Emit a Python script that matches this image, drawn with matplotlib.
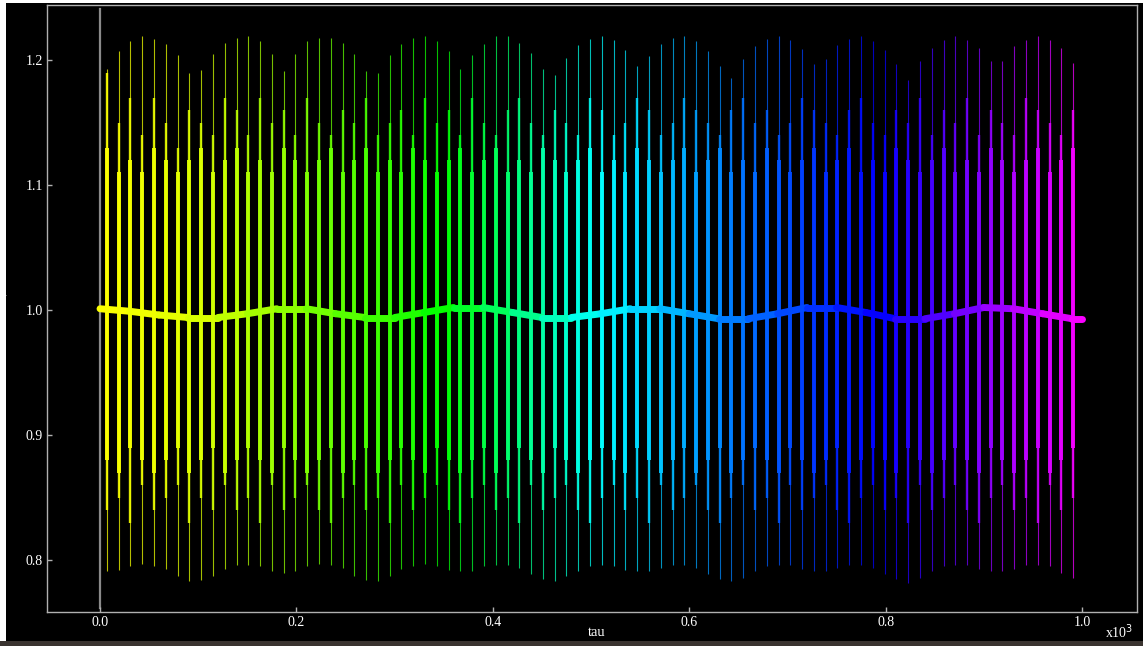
import numpy as np
import matplotlib
matplotlib.use("Agg")
import matplotlib.pyplot as plt
from matplotlib.collections import LineCollection
from matplotlib.colors import hsv_to_rgb
from matplotlib.patches import Rectangle

# ---- data (tau in units of 10^3) ----
spike_tau = [
    0.007, 0.019, 0.031, 0.043, 0.055, 0.067, 0.079, 0.091, 0.103, 0.115,
    0.127, 0.139, 0.151, 0.163, 0.175, 0.187, 0.199, 0.211, 0.223, 0.235,
    0.247, 0.259, 0.271, 0.283, 0.295, 0.307, 0.319, 0.331, 0.343, 0.355,
    0.367, 0.379, 0.391, 0.403, 0.415, 0.427, 0.439, 0.451, 0.463, 0.475,
    0.487, 0.499, 0.511, 0.523, 0.535, 0.547, 0.559, 0.571, 0.583, 0.595,
    0.607, 0.619, 0.631, 0.643, 0.655, 0.667, 0.679, 0.691, 0.703, 0.715,
    0.727, 0.739, 0.751, 0.763, 0.775, 0.787, 0.799, 0.811, 0.823, 0.835,
    0.847, 0.859, 0.871, 0.883, 0.895, 0.907, 0.919, 0.931, 0.943, 0.955,
    0.967, 0.979, 0.991]

spike_max = [
    1.193, 1.207, 1.215, 1.219, 1.217, 1.213, 1.204, 1.190, 1.192, 1.205,
    1.214, 1.218, 1.219, 1.215, 1.205, 1.191, 1.205, 1.215, 1.218, 1.218,
    1.214, 1.205, 1.191, 1.190, 1.204, 1.213, 1.218, 1.219, 1.215, 1.207,
    1.193, 1.204, 1.213, 1.219, 1.219, 1.214, 1.206, 1.193, 1.188, 1.202,
    1.212, 1.217, 1.219, 1.216, 1.208, 1.195, 1.203, 1.213, 1.218, 1.219,
    1.215, 1.207, 1.195, 1.186, 1.201, 1.211, 1.217, 1.219, 1.216, 1.209,
    1.197, 1.201, 1.212, 1.217, 1.219, 1.215, 1.208, 1.197, 1.184, 1.199,
    1.210, 1.216, 1.219, 1.216, 1.210, 1.199, 1.199, 1.211, 1.216, 1.219,
    1.216, 1.210, 1.198]

spike_min = [
    0.791, 0.792, 0.795, 0.797, 0.795, 0.793, 0.787, 0.783, 0.784, 0.787,
    0.793, 0.796, 0.796, 0.795, 0.791, 0.790, 0.791, 0.795, 0.797, 0.796,
    0.794, 0.787, 0.784, 0.783, 0.787, 0.793, 0.795, 0.797, 0.795, 0.792,
    0.791, 0.791, 0.795, 0.796, 0.796, 0.794, 0.789, 0.785, 0.783, 0.787,
    0.791, 0.795, 0.796, 0.795, 0.792, 0.791, 0.791, 0.794, 0.796, 0.796,
    0.794, 0.789, 0.785, 0.783, 0.786, 0.791, 0.795, 0.796, 0.796, 0.793,
    0.791, 0.791, 0.794, 0.796, 0.796, 0.794, 0.789, 0.785, 0.782, 0.786,
    0.791, 0.795, 0.796, 0.796, 0.793, 0.791, 0.791, 0.793, 0.796, 0.796,
    0.795, 0.790, 0.786]

mid_max = [
    1.19, 1.15, 1.17, 1.14, 1.17, 1.15, 1.13, 1.16, 1.15, 1.14,
    1.17, 1.16, 1.14, 1.17, 1.15, 1.16, 1.14, 1.17, 1.15, 1.14,
    1.16, 1.15, 1.17, 1.14, 1.15, 1.16, 1.14, 1.17, 1.15, 1.16,
    1.14, 1.17, 1.15, 1.14, 1.16, 1.17, 1.15, 1.14, 1.16, 1.15,
    1.14, 1.17, 1.16, 1.14, 1.15, 1.17, 1.16, 1.14, 1.15, 1.17,
    1.16, 1.15, 1.14, 1.16, 1.17, 1.15, 1.16, 1.14, 1.15, 1.17,
    1.16, 1.15, 1.14, 1.16, 1.17, 1.15, 1.14, 1.16, 1.15, 1.17,
    1.14, 1.16, 1.15, 1.17, 1.14, 1.16, 1.15, 1.14, 1.17, 1.16,
    1.15, 1.14, 1.16]

mid_min = [
    0.84, 0.85, 0.83, 0.86, 0.84, 0.85, 0.86, 0.83, 0.85, 0.84,
    0.86, 0.84, 0.85, 0.83, 0.86, 0.84, 0.85, 0.86, 0.84, 0.83,
    0.85, 0.86, 0.84, 0.85, 0.83, 0.86, 0.84, 0.85, 0.86, 0.84,
    0.83, 0.85, 0.86, 0.84, 0.85, 0.83, 0.86, 0.84, 0.85, 0.86,
    0.84, 0.83, 0.85, 0.86, 0.84, 0.85, 0.83, 0.86, 0.84, 0.85,
    0.86, 0.84, 0.83, 0.85, 0.86, 0.84, 0.85, 0.83, 0.86, 0.84,
    0.85, 0.86, 0.84, 0.83, 0.85, 0.86, 0.84, 0.85, 0.83, 0.86,
    0.84, 0.85, 0.86, 0.84, 0.83, 0.85, 0.86, 0.84, 0.85, 0.83,
    0.86, 0.84, 0.85]

core_max = [
    1.13, 1.11, 1.12, 1.11, 1.13, 1.12, 1.11, 1.12, 1.13, 1.11,
    1.12, 1.13, 1.11, 1.12, 1.11, 1.13, 1.12, 1.11, 1.12, 1.13,
    1.11, 1.12, 1.13, 1.11, 1.12, 1.11, 1.13, 1.12, 1.11, 1.12,
    1.13, 1.11, 1.12, 1.13, 1.11, 1.12, 1.11, 1.13, 1.12, 1.11,
    1.12, 1.13, 1.11, 1.12, 1.11, 1.13, 1.12, 1.11, 1.12, 1.13,
    1.11, 1.12, 1.13, 1.11, 1.12, 1.11, 1.13, 1.12, 1.11, 1.12,
    1.13, 1.11, 1.12, 1.13, 1.11, 1.12, 1.11, 1.13, 1.12, 1.11,
    1.12, 1.13, 1.11, 1.12, 1.11, 1.13, 1.12, 1.11, 1.12, 1.13,
    1.11, 1.12, 1.13]

core_min = [
    0.88, 0.87, 0.89, 0.88, 0.87, 0.88, 0.89, 0.87, 0.88, 0.89,
    0.87, 0.88, 0.89, 0.88, 0.87, 0.89, 0.88, 0.87, 0.88, 0.89,
    0.87, 0.88, 0.89, 0.87, 0.88, 0.89, 0.88, 0.87, 0.89, 0.88,
    0.87, 0.88, 0.89, 0.87, 0.88, 0.89, 0.88, 0.87, 0.89, 0.88,
    0.87, 0.88, 0.89, 0.88, 0.87, 0.89, 0.88, 0.87, 0.88, 0.89,
    0.87, 0.88, 0.89, 0.87, 0.88, 0.89, 0.88, 0.87, 0.89, 0.88,
    0.87, 0.88, 0.89, 0.87, 0.88, 0.89, 0.88, 0.87, 0.89, 0.88,
    0.87, 0.88, 0.89, 0.88, 0.87, 0.89, 0.88, 0.87, 0.88, 0.89,
    0.87, 0.88, 0.89]

base_tau = [0.00, 0.03, 0.06, 0.09, 0.12, 0.15, 0.18, 0.21, 0.24, 0.27,
            0.30, 0.33, 0.36, 0.39, 0.42, 0.45, 0.48, 0.51, 0.54, 0.57,
            0.60, 0.63, 0.66, 0.69, 0.72, 0.75, 0.78, 0.81, 0.84, 0.87,
            0.90, 0.93, 0.96, 0.99, 1.00]
base_n = [1.001, 0.999, 0.996, 0.994, 0.994, 0.997, 1.001, 1.001, 0.997, 0.994,
          0.994, 0.998, 1.002, 1.002, 0.998, 0.994, 0.994, 0.997, 1.001, 1.001,
          0.997, 0.993, 0.993, 0.997, 1.002, 1.002, 0.998, 0.993, 0.993, 0.997,
          1.002, 1.001, 0.997, 0.993, 0.993]

x_ticks = [0.0, 0.2, 0.4, 0.6, 0.8, 1.0]
x_ticklabels = ["0.0", "0.2", "0.4", "0.6", "0.8", "1.0"]
y_ticks = [0.8, 0.9, 1.0, 1.1, 1.2]
y_ticklabels = ["0.8", "0.9", "1.0", "1.1", "1.2"]

# colour map: hue (degrees) along tau
hue_stop_tau = [0.0, 0.1, 0.2, 0.35, 0.5, 0.65, 0.8, 0.9, 1.0]
hue_stop_deg = [60, 68, 88, 120, 178, 212, 242, 272, 300]


def hue_color(t):
    t = np.asarray(t, dtype=float)
    h = np.interp(t, hue_stop_tau, hue_stop_deg) / 360.0
    hsv = np.stack([h, np.ones_like(h), np.ones_like(h)], axis=-1)
    return hsv_to_rgb(hsv)


W, H = 1143, 646
fig = plt.figure(figsize=(W / 100, H / 100), dpi=100, facecolor="black")
ax = fig.add_axes([47 / W, 1 - 612 / H, (1137 - 47) / W, (612 - 5) / H])
ax.set_facecolor("black")

st = np.array(spike_tau)
cols = hue_color(st)

# gray vertical line at tau = 0
ax.axvline(0.0, ymin=0.007, ymax=0.993, color="#8a8a8a", lw=1.6, zorder=1)

# outer thin extents
seg_outer = [[(t, lo), (t, hi)] for t, lo, hi in zip(spike_tau, spike_min, spike_max)]
ax.add_collection(LineCollection(seg_outer, colors=cols, linewidths=0.8, alpha=0.75, zorder=2))

# mid extents
seg_mid = [[(t, lo), (t, hi)] for t, lo, hi in zip(spike_tau, mid_min, mid_max)]
ax.add_collection(LineCollection(seg_mid, colors=cols, linewidths=1.7, alpha=0.9, zorder=3))

# core thick part
seg_core = [[(t, lo), (t, hi)] for t, lo, hi in zip(spike_tau, core_min, core_max)]
ax.add_collection(LineCollection(seg_core, colors=cols, linewidths=2.8, zorder=4))

# baseline band
bt = np.array(base_tau)
bn = np.array(base_n)
pts = np.column_stack([bt, bn])
seg_base = np.stack([pts[:-1], pts[1:]], axis=1)
mid_t = 0.5 * (bt[:-1] + bt[1:])
ax.add_collection(LineCollection(seg_base, colors=hue_color(mid_t), linewidths=5.0,
                                 capstyle="round", zorder=5))

ax.set_xlim(-0.054, 1.056)
ax.set_ylim(0.7584, 1.244)

for sp in ax.spines.values():
    sp.set_color("#b0b0b0")
    sp.set_linewidth(1.0)

ax.set_xticks(x_ticks)
ax.set_xticklabels(x_ticklabels)
ax.set_yticks(y_ticks)
ax.set_yticklabels(y_ticklabels)
ax.tick_params(axis="both", direction="in", length=3.5, width=1, color="#b0b0b0",
               labelcolor="white", labelsize=10, pad=3)
for lab in ax.get_xticklabels() + ax.get_yticklabels():
    lab.set_family("Liberation Serif")

fig.text(597 / W, 1 - 632 / H, "tau", color="white", fontsize=10.5,
         family="Liberation Serif", ha="center", va="center")
fig.text(3 / W, 1 - 292 / H, "n", color="white", fontsize=10,
         family="Liberation Serif", ha="center", va="center")
fig.text(1105 / W, 1 - 632 / H, "x10$^3$", color="white", fontsize=10,
         family="Liberation Serif", ha="left", va="center")

# screenshot border strips
fig.patches.append(Rectangle((0, 0), 6 / W, 1, transform=fig.transFigure,
                             facecolor="white", edgecolor="none", zorder=10))
fig.patches.append(Rectangle((0, 1 - 3 / H), 1, 3 / H, transform=fig.transFigure,
                             facecolor="white", edgecolor="none", zorder=10))
fig.patches.append(Rectangle((0, 0), 1, 5 / H, transform=fig.transFigure,
                             facecolor="#3a3430", edgecolor="none", zorder=10))

fig.savefig("out.png", dpi=100, facecolor="black")
